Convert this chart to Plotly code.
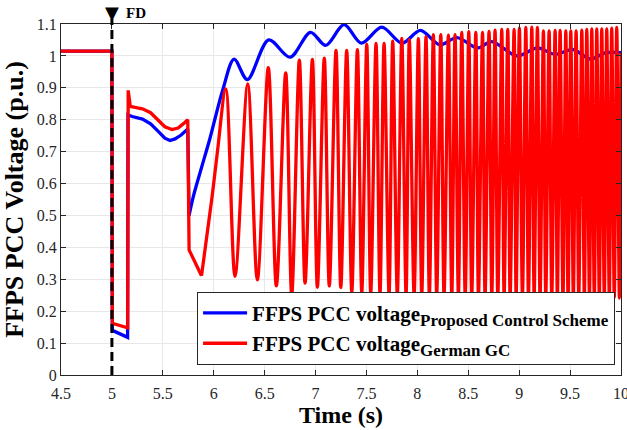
import plotly.graph_objects as go

# ---- Proposed control scheme: PCC voltage (p.u.) vs time (s) ----
# fault and ride-through stage (straight segments)
t_blue_head = [4.5, 5.0, 5.004, 5.154, 5.158, 5.2, 5.3, 5.38, 5.45, 5.52, 5.57, 5.62, 5.68, 5.745, 5.758]
v_blue_head = [1.015, 1.015, 0.14, 0.118, 0.815, 0.81, 0.802, 0.787, 0.765, 0.742, 0.735, 0.74, 0.752, 0.771, 0.5]
# recovery stage (smooth)
t_blue_tail = [5.758, 5.8, 5.88, 5.96, 6.09, 6.2, 6.33, 6.54, 6.75, 6.95, 7.1, 7.28, 7.45, 7.65,
               7.85, 8.03, 8.22, 8.39, 8.59, 8.73, 8.98, 9.18, 9.35, 9.53, 9.7, 9.85, 10.0]
v_blue_tail = [0.5, 0.56, 0.65, 0.738, 0.895, 0.99, 0.926, 1.05, 0.996, 1.074, 1.033, 1.098, 1.04, 1.09,
               1.04, 1.08, 1.035, 1.057, 1.025, 1.045, 1.0, 1.025, 1.005, 1.02, 0.99, 1.01, 1.01]

# ---- German grid code: fault and ride-through stage (straight segments) ----
t_red_head = [4.5, 5.0, 5.004, 5.155, 5.16, 5.18, 5.25, 5.3, 5.38, 5.45, 5.52, 5.59, 5.65, 5.7, 5.745,
              5.758, 5.79, 5.88]
v_red_head = [1.015, 1.015, 0.162, 0.148, 0.892, 0.842, 0.837, 0.834, 0.822, 0.8, 0.778, 0.769, 0.774, 0.787, 0.8,
              0.392, 0.37, 0.311]

# ---- German grid code: oscillation (first rising flank, then maxima / minima) ----
t_red_rise = [5.88, 5.98, 6.035]
v_red_rise = [0.311, 0.549, 0.696]

red_peak_t = [6.118, 6.334, 6.536, 6.707, 6.841, 6.969, 7.086,
              7.201, 7.306, 7.411, 7.503, 7.594, 7.673, 7.758, 7.847, 7.921, 8.01,
              8.085, 8.157, 8.23, 8.305, 8.37, 8.436, 8.505, 8.574, 8.64, 8.704,
              8.763, 8.829, 8.888, 8.95, 9.002, 9.065, 9.124, 9.179, 9.238, 9.294,
              9.353, 9.402, 9.458, 9.507, 9.559, 9.615, 9.664, 9.713, 9.762, 9.811,
              9.86, 9.909, 9.958]
red_peak_v = [0.897, 0.912, 0.963, 0.947, 0.987, 0.989, 0.993,
              1.017, 1.017, 1.02, 1.036, 1.039, 1.039, 1.046, 1.055, 1.051, 1.054,
              1.06, 1.067, 1.067, 1.065, 1.067, 1.074, 1.076, 1.074, 1.074, 1.077,
              1.081, 1.083, 1.083, 1.083, 1.087, 1.089, 1.09, 1.089, 1.078, 1.078,
              1.08, 1.08, 1.078, 1.078, 1.078, 1.081, 1.083, 1.085, 1.085, 1.085,
              1.085, 1.087, 1.089]

red_trough_t = [6.209, 6.428, 6.615, 6.766, 6.897, 7.018, 7.135,
                7.248, 7.356, 7.454, 7.542, 7.633, 7.722, 7.803, 7.889, 7.968, 8.043,
                8.118, 8.19, 8.262, 8.338, 8.403, 8.47, 8.534, 8.6, 8.665, 8.731,
                8.79, 8.852, 8.911, 8.97, 9.032, 9.091, 9.147, 9.205, 9.261, 9.32,
                9.375, 9.43, 9.48, 9.532, 9.585, 9.64, 9.69, 9.738, 9.787, 9.836,
                9.885, 9.934, 9.984]
red_trough_v = [0.309, 0.298, 0.279, 0.25, 0.288, 0.275, 0.279,
                0.274, 0.26, 0.258, 0.256, 0.255, 0.254, 0.253, 0.252, 0.251, 0.25,
                0.25, 0.249, 0.249, 0.248, 0.248, 0.247, 0.247, 0.246, 0.246, 0.246,
                0.245, 0.245, 0.245, 0.244, 0.244, 0.244, 0.243, 0.243, 0.243, 0.243,
                0.242, 0.242, 0.242, 0.242, 0.242, 0.242, 0.242, 0.241, 0.241, 0.241,
                0.241, 0.243, 0.241]

t_red_end = [10.0]
v_red_end = [1.01]

fault_t = 5.0

x_ticks = [4.5, 5, 5.5, 6, 6.5, 7, 7.5, 8, 8.5, 9, 9.5, 10]
y_ticks = [0, 0.1, 0.2, 0.3, 0.4, 0.5, 0.6, 0.7, 0.8, 0.9, 1, 1.1]

# merge the oscillation extrema into one time-ordered series
osc = sorted(list(zip(red_peak_t, red_peak_v)) + list(zip(red_trough_t, red_trough_v)))
t_red_tail = t_red_rise + [p[0] for p in osc] + t_red_end
v_red_tail = v_red_rise + [p[1] for p in osc] + v_red_end

SERIF = "Liberation Serif, Times New Roman, serif"
AX = "#262626"
BLUE = "#0000ff"
RED = "#ff0000"
LW = 3.3

name_blue = "<b>FFPS PCC voltage<sub><span style=\"font-size:17px\">Proposed Control Scheme</span></sub></b>"
name_red = "<b>FFPS PCC voltage<sub><span style=\"font-size:17px\">German GC</span></sub></b>"

fig = go.Figure()
fig.add_trace(go.Scatter(x=t_blue_head, y=v_blue_head, mode="lines", name=name_blue,
                         legendgroup="pcs", line=dict(color=BLUE, width=LW)))
fig.add_trace(go.Scatter(x=t_blue_tail, y=v_blue_tail, mode="lines", name=name_blue,
                         legendgroup="pcs", showlegend=False,
                         line=dict(color=BLUE, width=LW, shape="spline", smoothing=0.9)))
fig.add_trace(go.Scatter(x=t_red_head, y=v_red_head, mode="lines", name=name_red,
                         legendgroup="ggc", line=dict(color=RED, width=LW)))
fig.add_trace(go.Scatter(x=t_red_tail, y=v_red_tail, mode="lines", name=name_red,
                         legendgroup="ggc", showlegend=False,
                         line=dict(color=RED, width=LW, shape="spline", smoothing=0.9)))

# fault-detection instant
fig.add_shape(type="line", xref="x", yref="paper", x0=fault_t, x1=fault_t, y0=0, y1=1.015,
              line=dict(color="black", width=3, dash="9px,5px"), layer="above")
fig.add_annotation(x=fault_t, xref="x", y=1.032, yref="paper", text="▼", showarrow=False,
                   font=dict(family="DejaVu Sans", size=18, color="black"), yanchor="middle")
fig.add_annotation(x=fault_t, xref="x", y=1.032, yref="paper", text="<b>FD</b>", showarrow=False,
                   xshift=24, font=dict(family=SERIF, size=15, color="black"), yanchor="middle")

axis_common = dict(
    showgrid=True, gridcolor="#e8e8e8", gridwidth=1,
    showline=True, linecolor=AX, linewidth=1, mirror="ticks",
    ticks="inside", ticklen=5, tickcolor=AX, tickwidth=1,
    tickfont=dict(family=SERIF, size=16, color=AX), zeroline=False,
    ticklabeloverflow="allow", automargin=False,
)
fig.update_xaxes(range=[4.5, 10], tickvals=x_ticks, ticklabelstandoff=4,
                 title=dict(text="<b>Time (s)</b>", font=dict(family=SERIF, size=24, color="black"), standoff=4),
                 **axis_common)
fig.update_yaxes(range=[0, 1.1], tickvals=y_ticks,
                 title=dict(text="<b>FFPS PCC Voltage (p.u.)</b>", font=dict(family=SERIF, size=26, color="black"), standoff=5),
                 **axis_common)

fig.update_layout(
    width=627, height=430,
    margin=dict(l=61, r=6, t=24, b=55, autoexpand=False),
    plot_bgcolor="white", paper_bgcolor="white",
    showlegend=True,
    legend=dict(x=0.243, y=0.237, xanchor="left", yanchor="top",
                bgcolor="white", bordercolor=AX, borderwidth=1,
                font=dict(family=SERIF, size=21, color="black"),
                itemwidth=44, tracegroupgap=0),
)

fig.write_html("out.html")
